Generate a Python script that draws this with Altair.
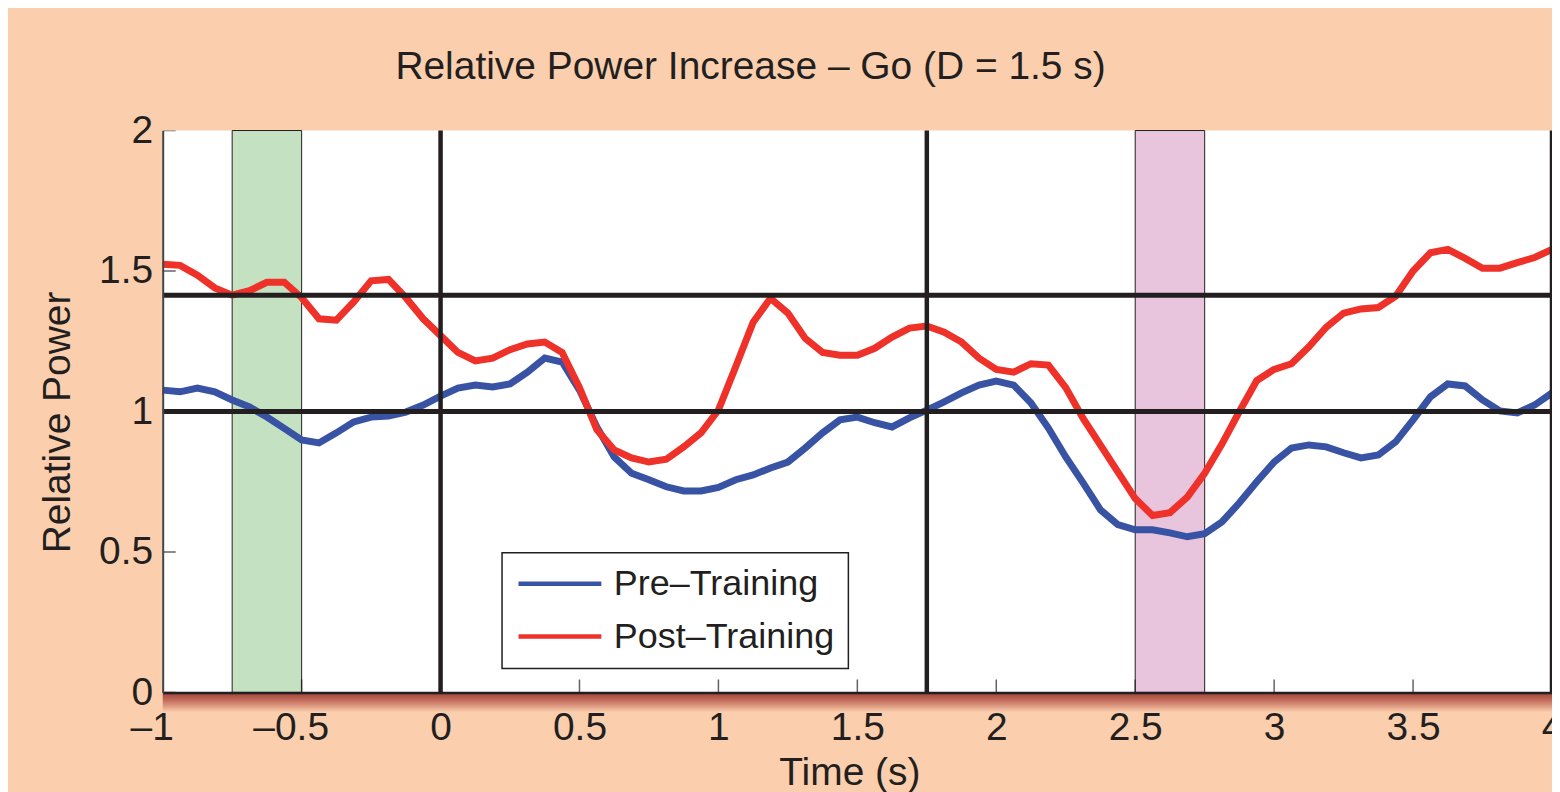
import altair as alt
import pandas as pd

# ---------------- data ----------------
# sample times (s), one sample every 1/16 s from -1 to 4
times = [-1 + i * 0.0625 for i in range(81)]

pre_training = [
    1.076, 1.070, 1.083, 1.070, 1.041, 1.016, 0.980, 0.940, 0.899, 0.888,
    0.924, 0.963, 0.980, 0.984, 0.998, 1.023, 1.055, 1.083, 1.094, 1.087,
    1.098, 1.140, 1.190, 1.176, 1.076, 0.945, 0.838, 0.780, 0.757, 0.732,
    0.717, 0.717, 0.730, 0.757, 0.774, 0.799, 0.820, 0.870, 0.924, 0.970,
    0.980, 0.960, 0.945, 0.977, 1.005, 1.034, 1.066, 1.094, 1.108, 1.094,
    1.030, 0.941, 0.838, 0.746, 0.650, 0.597, 0.579, 0.579, 0.568, 0.554,
    0.565, 0.607, 0.675, 0.750, 0.820, 0.870, 0.881, 0.874, 0.853, 0.835,
    0.845, 0.892, 0.970, 1.052, 1.098, 1.091, 1.041, 1.002, 0.995, 1.023,
    1.066,
]

post_training = [
    1.524, 1.520, 1.485, 1.440, 1.414, 1.430, 1.460, 1.460, 1.405, 1.330,
    1.325, 1.390, 1.465, 1.470, 1.405, 1.330, 1.270, 1.210, 1.180, 1.190,
    1.220, 1.240, 1.247, 1.210, 1.085, 0.935, 0.863, 0.835, 0.820, 0.830,
    0.874, 0.924, 1.005, 1.160, 1.318, 1.403, 1.350, 1.260, 1.210, 1.200,
    1.200, 1.225, 1.265, 1.297, 1.304, 1.282, 1.247, 1.190, 1.150, 1.140,
    1.170, 1.165, 1.085, 0.975, 0.880, 0.785, 0.690, 0.630, 0.640, 0.695,
    0.780, 0.885, 1.000, 1.110, 1.150, 1.170, 1.230, 1.300, 1.350, 1.365,
    1.370, 1.410, 1.500, 1.565, 1.577, 1.545, 1.510, 1.510, 1.530, 1.548,
    1.577,
]

series_names = ["Pre–Training", "Post–Training"]
series_colors = ["#3953A4", "#EE3129"]

band_start = [-0.75, 2.5]
band_end = [-0.5, 2.75]
band_colors = ["#C4E2C2", "#E9C4DD"]

hline_values = [1.0, 1.414]
vline_values = [0.0, 1.75, 4.0]

x_ticks = [-1, -0.5, 0, 0.5, 1, 1.5, 2, 2.5, 3, 3.5, 4]
y_ticks = [0, 0.5, 1, 1.5, 2]

title_text = "Relative Power Increase – Go (D = 1.5 s)"

# ---------------- style ----------------
BG = "#FBCFAD"
INK = "#231F20"
FONT = "Liberation Sans"

df = pd.DataFrame({
    "t": times * 2,
    "v": pre_training + post_training,
    "series": [series_names[0]] * len(times) + [series_names[1]] * len(times),
})
bands = pd.DataFrame({"x0": band_start, "x1": band_end, "c": band_colors})
hlines = pd.DataFrame({"y": hline_values})
vlines = pd.DataFrame({"x": vline_values})
xt = pd.DataFrame({"x": x_ticks})
yt = pd.DataFrame({"y": y_ticks})
shadow = pd.DataFrame({"x0": [x_ticks[0]], "x1": [x_ticks[-1]]})

xscale = alt.Scale(domain=[-1, 4], nice=False, zero=False)
yscale = alt.Scale(domain=[0, 2], nice=False, zero=False)

x_axis = alt.Axis(
    values=x_ticks,
    labelExpr="datum.value < 0 ? '–' + (-datum.value) : '' + datum.value",
    labelOffset={"condition": {"test": "datum.value < 0", "value": -11}, "value": 0},
    ticks=False,
    grid=False,
    labelPadding=16,
    labelFontSize=39,
    labelFont=FONT,
    labelColor=INK,
    labelFlush=False,
    labelOverlap=False,
    domainColor=INK,
    domainWidth=2.5,
    title="Time (s)",
    titleFont=FONT,
    titleFontSize=39,
    titleFontWeight="normal",
    titleColor=INK,
    titleX=688,
    titleY=92,
    titleBaseline="alphabetic",
    titleAlign="center",
    zindex=1,
)
y_axis = alt.Axis(
    values=y_ticks,
    labelExpr="'' + datum.value",
    ticks=False,
    grid=False,
    labelPadding=10,
    labelFontSize=39,
    labelFont=FONT,
    labelColor=INK,
    labelFlush=False,
    labelOverlap=False,
    domainColor="#444444",
    domainWidth=2,
    title="Relative Power",
    titleFont=FONT,
    titleFontSize=39,
    titleFontWeight="normal",
    titleColor=INK,
    titleAngle=270,
    titleX=-93,
    titleY=292,
    titleBaseline="alphabetic",
    titleAlign="center",
    zindex=1,
)

shadow_layer = alt.Chart(shadow).mark_rect(
    color=alt.Gradient(
        gradient="linear",
        stops=[alt.GradientStop(color="#9C3F37", offset=0),
               alt.GradientStop(color="#C87462", offset=0.45),
               alt.GradientStop(color=BG, offset=1)],
        x1=0, x2=0, y1=0, y2=1,
    ),
    y2Offset=20,
).encode(
    x=alt.X("x0:Q", scale=xscale, axis=x_axis),
    x2="x1:Q",
    y=alt.Y(datum=0, scale=yscale, axis=y_axis),
    y2=alt.Y2(datum=0),
)

band_layer = alt.Chart(bands).mark_rect(stroke=INK, strokeWidth=1).encode(
    x=alt.X("x0:Q", scale=xscale),
    x2="x1:Q",
    y=alt.Y(datum=0, scale=yscale),
    y2=alt.Y2(datum=2),
    fill=alt.Fill("c:N", scale=None),
)

line_layer = alt.Chart(df).mark_line(strokeWidth=7).encode(
    x=alt.X("t:Q", scale=xscale),
    y=alt.Y("v:Q", scale=yscale),
    color=alt.Color(
        "series:N",
        scale=alt.Scale(domain=series_names, range=series_colors),
        legend=alt.Legend(
            orient="none",
            legendX=340,
            legendY=423,
            title=None,
            symbolType="stroke",
            symbolSize=6889,
            symbolStrokeWidth=4.5,
            labelFont=FONT,
            labelFontSize=36,
            labelColor=INK,
            labelOffset=10,
            labelLimit=500,
            padding=14,
            rowPadding=17,
            clipHeight=34,
            strokeColor=INK,
            fillColor="white",
        ),
    ),
    order="t:Q",
)

hline_layer = alt.Chart(hlines).mark_rule(color=INK, strokeWidth=5).encode(
    y=alt.Y("y:Q", scale=yscale),
)
vline_layer = alt.Chart(vlines).mark_rule(color=INK, strokeWidth=4.5).encode(
    x=alt.X("x:Q", scale=xscale),
)

xtick_layer = alt.Chart(xt).mark_tick(
    orient="vertical", size=26, thickness=1.5, color=INK, clip=True
).encode(x=alt.X("x:Q", scale=xscale), y=alt.Y(datum=0, scale=yscale))

ytick_layer = alt.Chart(yt).mark_tick(
    orient="horizontal", size=26, thickness=1.5, color=INK, clip=True
).encode(y=alt.Y("y:Q", scale=yscale), x=alt.X(datum=-1, scale=xscale))

chart = alt.layer(
    shadow_layer, band_layer, line_layer, hline_layer, vline_layer,
    xtick_layer, ytick_layer,
).properties(
    width=1392,
    height=563,
    padding={"left": 155, "top": 122, "right": 0, "bottom": 99},
    autosize=alt.AutoSizeParams(type="none"),
    background=BG,
    title=alt.Title(
        title_text,
        font=FONT,
        fontSize=39,
        fontWeight="normal",
        color=INK,
        anchor="middle",
        dx=-107,
        offset=-6,
        baseline="alphabetic",
    ),
).configure_view(
    fill="white",
    strokeWidth=0,
).configure_legend(
    strokeWidth=1.5,
)

chart.save("out.html", embed_options={"renderer": "svg", "actions": False})
